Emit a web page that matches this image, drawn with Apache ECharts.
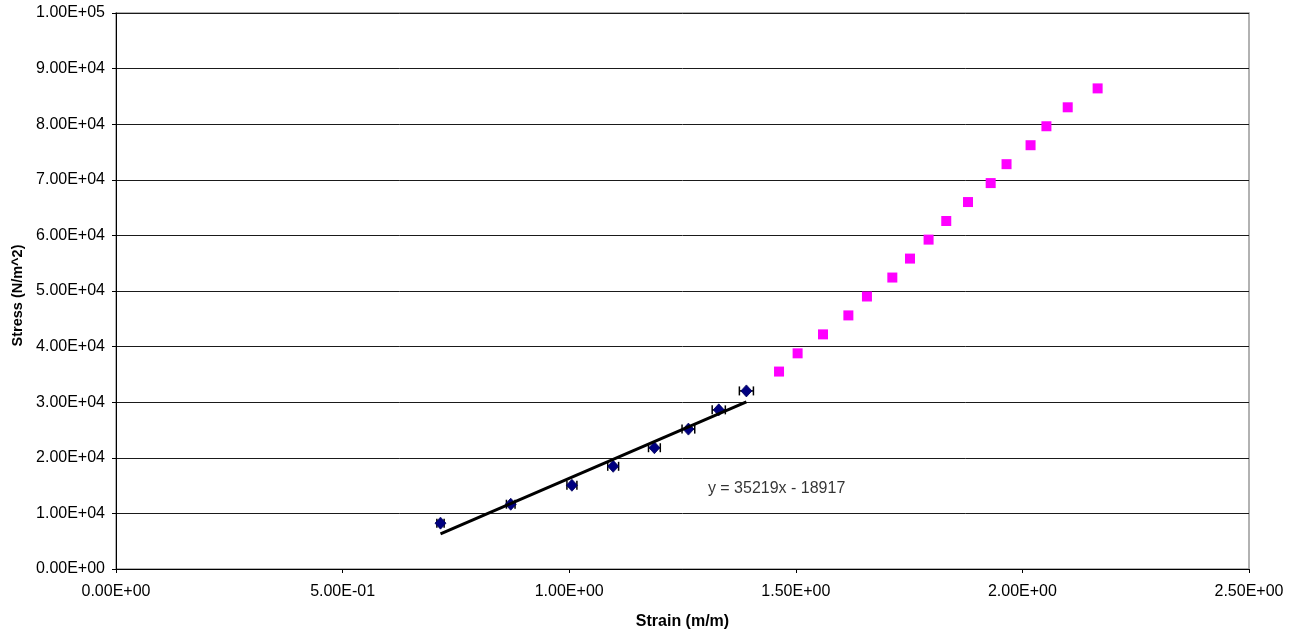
<!DOCTYPE html>
<html>
<head>
<meta charset="utf-8">
<script src="https://cdn.jsdelivr.net/npm/echarts@6/dist/echarts.min.js"></script>
<style>
  html, body { margin: 0; padding: 0; background: #fff; }
  #chart { width: 1297px; height: 635px; }
</style>
</head>
<body>
<div id="chart"></div>
<script>
// Measured strain (m/m) and stress (N/m^2) with horizontal strain uncertainty
const measuredStrain = [0.716, 0.871, 1.006, 1.097, 1.188, 1.263, 1.330, 1.391];
const measuredStress = [8250, 11650, 15060, 18470, 21810, 25160, 28620, 32030];
const strainError    = [0.008, 0.0095, 0.011, 0.012, 0.013, 0.014, 0.0145, 0.0155];

// Continued loading beyond the fitted region
const extendedStrain = [1.463, 1.504, 1.560, 1.616, 1.657, 1.713, 1.752, 1.793,
                        1.832, 1.880, 1.930, 1.965, 2.018, 2.053, 2.100, 2.166];
const extendedStress = [35510, 38790, 42200, 45610, 49010, 52420, 55830, 59240,
                        62590, 66000, 69410, 72810, 76220, 79630, 83040, 86440];

// Linear fit of the measured points
const fitSlope = 35219;
const fitIntercept = -18917;
const fitLabel = 'y = 35219x - 18917';
const fitLabelAt = [1.306, 14400];

// Axis ranges and tick steps
const xAxisRange = [0, 2.5, 0.5];
const yAxisRange = [0, 100000, 10000];

function sci(v) {
  if (v === 0) return '0.00E+00';
  let exp = Math.floor(Math.log10(Math.abs(v)) + 1e-9);
  let m = (v / Math.pow(10, exp)).toFixed(2);
  if (Math.abs(parseFloat(m)) >= 10) { exp += 1; m = (v / Math.pow(10, exp)).toFixed(2); }
  const sign = exp < 0 ? '-' : '+';
  const e = String(Math.abs(exp)).padStart(2, '0');
  return m + 'E' + sign + e;
}

const FONT = "'Liberation Sans', Arial, sans-serif";

const measured = measuredStrain.map((x, i) => [x, measuredStress[i]]);
const errorData = measuredStrain.map((x, i) => [x, measuredStress[i], strainError[i]]);
const extended = extendedStrain.map((x, i) => [x, extendedStress[i]]);
const xMin = Math.min(...measuredStrain);
const xMax = Math.max(...measuredStrain);
const fitLine = [[xMin, fitSlope * xMin + fitIntercept], [xMax, fitSlope * xMax + fitIntercept]];

const chart = echarts.init(document.getElementById('chart'), null, { renderer: 'canvas' });
chart.setOption({
  animation: false,
  backgroundColor: '#fff',
  textStyle: { fontFamily: FONT },
  grid: {
    left: 116, right: 48, top: 13, bottom: 65,
    show: true, borderColor: '#999', borderWidth: 1.5, backgroundColor: '#fff'
  },
  xAxis: {
    type: 'value',
    min: xAxisRange[0], max: xAxisRange[1], interval: xAxisRange[2],
    name: 'Strain (m/m)',
    nameLocation: 'middle',
    nameGap: 45,
    nameTextStyle: { fontFamily: FONT, fontSize: 16, fontWeight: 'bold', color: '#000' },
    axisLine: { show: true, onZero: false, lineStyle: { color: '#000', width: 1 } },
    axisTick: { show: true, length: 4, lineStyle: { color: '#000' } },
    axisLabel: { fontFamily: FONT, fontSize: 16, color: '#000', margin: 15, formatter: sci },
    splitLine: { show: false }
  },
  yAxis: {
    type: 'value',
    min: yAxisRange[0], max: yAxisRange[1], interval: yAxisRange[2],
    name: 'Stress (N/m^2)',
    nameLocation: 'middle',
    nameGap: 87,
    nameTextStyle: {
      fontFamily: FONT, fontSize: 14.5, fontWeight: 'bold', color: '#000',
      padding: [0, 9, 0, 0]
    },
    axisLine: { show: true, onZero: false, lineStyle: { color: '#000', width: 1 } },
    axisTick: { show: true, length: 4, lineStyle: { color: '#000' } },
    axisLabel: { fontFamily: FONT, fontSize: 16, color: '#000', margin: 11, formatter: sci },
    splitLine: { show: true, lineStyle: { color: '#1a1a1a', width: 1 } }
  },
  series: [
    {
      name: 'strain error',
      type: 'custom',
      z: 2,
      data: errorData,
      renderItem: function (params, api) {
        const x = api.value(0), y = api.value(1), e = api.value(2);
        const a = api.coord([x - e, y]);
        const b = api.coord([x + e, y]);
        const cap = 4.5;
        const style = { stroke: '#000', lineWidth: 1.5 };
        return {
          type: 'group',
          children: [
            { type: 'line', shape: { x1: a[0], y1: a[1], x2: b[0], y2: b[1] }, style: style },
            { type: 'line', shape: { x1: a[0], y1: a[1] - cap, x2: a[0], y2: a[1] + cap }, style: style },
            { type: 'line', shape: { x1: b[0], y1: b[1] - cap, x2: b[0], y2: b[1] + cap }, style: style }
          ]
        };
      }
    },
    {
      name: 'measured',
      type: 'scatter',
      z: 3,
      symbol: 'diamond',
      symbolSize: [11, 12],
      itemStyle: { color: '#000080', borderColor: '#00005a', borderWidth: 0.8, opacity: 1 },
      data: measured
    },
    {
      name: 'extended',
      type: 'scatter',
      z: 3,
      symbol: 'rect',
      symbolSize: 10,
      itemStyle: { color: '#ff00ff', opacity: 1 },
      data: extended
    },
    {
      name: 'linear fit',
      type: 'line',
      z: 4,
      symbol: 'none',
      lineStyle: { color: '#000', width: 3 },
      data: fitLine
    },
    {
      name: 'fit equation',
      type: 'scatter',
      z: 5,
      symbolSize: 0,
      silent: true,
      data: [fitLabelAt],
      label: {
        show: true,
        position: [0, 0],
        align: 'left',
        verticalAlign: 'middle',
        fontFamily: FONT,
        fontSize: 16,
        color: '#000',
        formatter: fitLabel
      }
    }
  ]
});
</script>
</body>
</html>
